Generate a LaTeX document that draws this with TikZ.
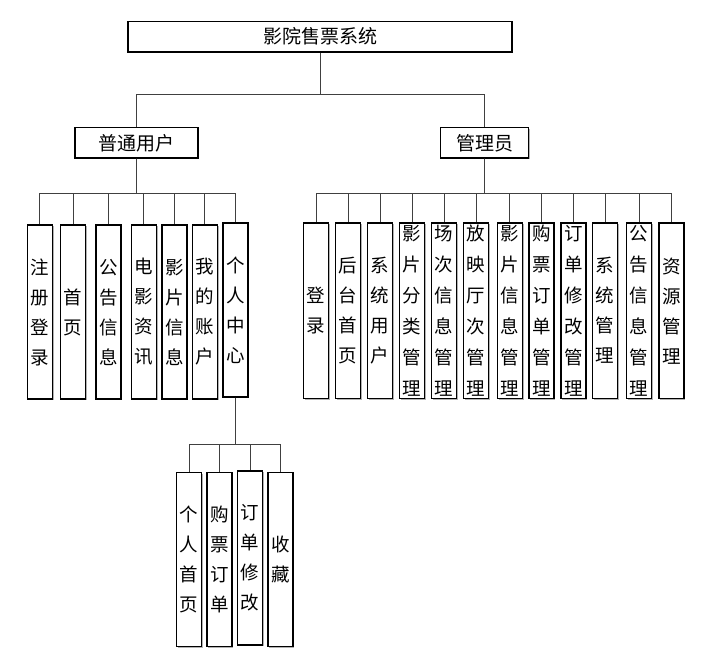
\documentclass[tikz,border=0pt]{standalone}
\usepackage{fontspec}
\newfontfamily\cjk{Noto Sans CJK SC}
\usetikzlibrary{shadows}
\tikzset{
  conn/.style={draw=black!75, line width=0.9pt},
  box/.style={draw=black, line width=1.4pt, fill=white, inner sep=0pt, align=center,
    drop shadow={shadow xshift=1.3pt, shadow yshift=-1.3pt, fill=black, opacity=0.3}},
  hbox/.style={box, minimum height=30.5pt, font=\cjk\fontsize{19}{21}\selectfont},
  vbox/.style={box, minimum width=25pt, minimum height=174pt, font=\cjk\fontsize{18.5}{30}\selectfont},
  vtall/.style={vbox, minimum height=175.5pt},
  six/.style={font=\cjk\fontsize{18.5}{31}\selectfont},
}
\begin{document}
\begin{tikzpicture}[x=1pt,y=-1pt]
\fill[white] (0,0) rectangle (709,663);
\useasboundingbox (0,0) rectangle (709,663);
% bus levels
\coordinate (busT) at (0,94);
\coordinate (busU) at (0,193.3);
\coordinate (busP) at (0,444);
% top
\node[hbox, minimum width=384pt] (root) at (320,36.7) {影院售票系统};
\node[hbox, minimum width=123pt] (user) at (136.5,142.8) {普通用户};
\node[hbox, minimum width=88pt] (admin) at (484.6,142.8) {管理员};
% user group
\node[vbox] (u1) at (39.7,312) {注\\册\\登\\录};
\node[vbox] (u2) at (73.2,312) {首\\页};
\node[vbox] (u3) at (108.5,312) {公\\告\\信\\息};
\node[vbox] (u4) at (143.7,312) {电\\影\\资\\讯};
\node[vbox] (u5) at (174.3,312) {影\\片\\信\\息};
\node[vbox] (u6) at (204.8,312) {我\\的\\账\\户};
\node[vbox] (u7) at (235.3,310) {个\\人\\中\\心};
% personal center group
\node[vbox] (p1) at (189.2,559.7) {个\\人\\首\\页};
\node[vbox] (p2) at (219.5,559.7) {购\\票\\订\\单};
\node[vbox] (p3) at (250,558) {订\\单\\修\\改};
\node[vbox] (p4) at (280.5,559.7) {收\\藏};
% admin group
\node[vtall] (a1) at (316.2,310.7) {登\\录};
\node[vtall] (a2) at (348.2,310.7) {后\\台\\首\\页};
\node[vtall] (a3) at (380.2,310.7) {系\\统\\用\\户};
\node[vtall,six] (a4) at (412.2,310.7) {影\\片\\分\\类\\管\\理};
\node[vtall,six] (a5) at (444,310.7) {场\\次\\信\\息\\管\\理};
\node[vtall,six] (a6) at (476.2,310.7) {放\\映\\厅\\次\\管\\理};
\node[vtall,six] (a7) at (509.8,310.7) {影\\片\\信\\息\\管\\理};
\node[vtall,six] (a8) at (541.5,310.7) {购\\票\\订\\单\\管\\理};
\node[vtall,six] (a9) at (573.3,310.7) {订\\单\\修\\改\\管\\理};
\node[vtall] (a10) at (605.2,310.7) {系\\统\\管\\理};
\node[vtall,six] (a11) at (639.2,310.7) {公\\告\\信\\息\\管\\理};
\node[vtall] (a12) at (671.5,310.7) {资\\源\\管\\理};
% connectors
\foreach \c in {user,admin}
  \draw[conn] (root.south) -- (root.south |- busT) -| (\c.north);
\foreach \c in {u1,u2,u3,u4,u5,u6,u7}
  \draw[conn] (user.south) -- (user.south |- busU) -| (\c.north);
\foreach \c in {a1,a2,a3,a4,a5,a6,a7,a8,a9,a10,a11,a12}
  \draw[conn] (admin.south) -- (admin.south |- busU) -| (\c.north);
\foreach \c in {p1,p2,p3,p4}
  \draw[conn] (u7.south) -- (u7.south |- busP) -| (\c.north);
\end{tikzpicture}
\end{document}
